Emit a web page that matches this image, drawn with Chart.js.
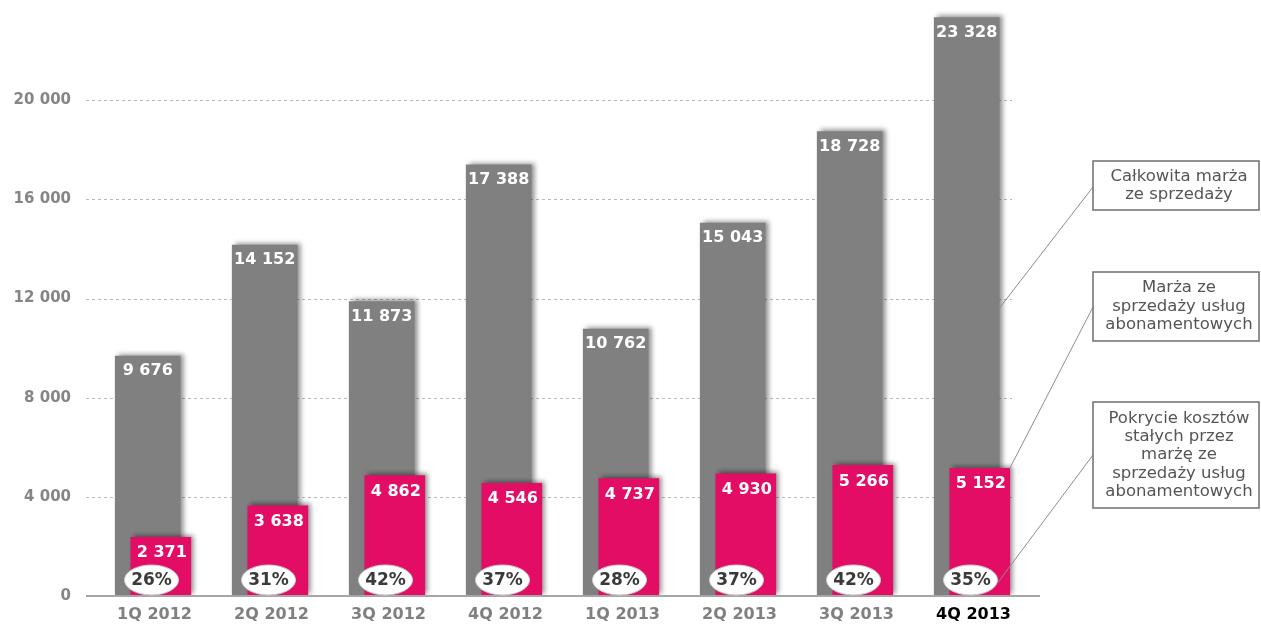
<!DOCTYPE html>
<html>
<head>
<meta charset="utf-8">
<script src="https://cdn.jsdelivr.net/npm/chart.js@4"></script>
<style>
  html,body{margin:0;padding:0;background:#fff;overflow:hidden;}
  #wrap{width:1261px;height:624px;position:relative;}
</style>
</head>
<body>
<div id="wrap"><canvas id="chart"></canvas></div>
<script>
// data
const categories=["1Q 2012","2Q 2012","3Q 2012","4Q 2012","1Q 2013","2Q 2013","3Q 2013","4Q 2013"];
const totalMargin=[9676,14152,11873,17388,10762,15043,18728,23328];
const subscriptionMargin=[2371,3638,4862,4546,4737,4930,5266,5152];
const coverage=[26,31,42,37,28,37,42,35];
const yTicks=[0,4000,8000,12000,16000,20000];
const calloutTexts=[
    ["Całkowita marża","ze sprzedaży"],
    ["Marża ze","sprzedaży usług","abonamentowych"],
    ["Pokrycie kosztów","stałych przez","marżę ze","sprzedaży usług","abonamentowych"]
];

const GREY="#808080";
const MAGENTA="#e30d66";
const FONT="'DejaVu Sans', Verdana, sans-serif";

function fmt(v){
    return String(v).replace(/\B(?=(\d{3})+(?!\d))/g," ");
}

// soft shadow on the bars
const shadowPlugin={
    id:"barShadow",
    beforeDatasetDraw(chart){
        const ctx=chart.ctx;
        ctx.save();
        ctx.shadowColor="rgba(0,0,0,0.45)";
        ctx.shadowBlur=5;
        ctx.shadowOffsetX=3;
        ctx.shadowOffsetY=-2;
    },
    afterDatasetDraw(chart){
        chart.ctx.restore();
    }
};

// dashed grid lines and the base line
const gridPlugin={
    id:"grid",
    beforeDatasetsDraw(chart){
        const ctx=chart.ctx, y=chart.scales.y, a=chart.chartArea;
        ctx.save();
        ctx.strokeStyle="#b8b8b8";
        ctx.lineWidth=1;
        ctx.setLineDash([3,3]);
        yTicks.forEach(function(t){
            if(t===0) return;
            const py=Math.round(y.getPixelForValue(t))+0.5;
            ctx.beginPath();
            ctx.moveTo(a.left-10,py);
            ctx.lineTo(a.right-20,py);
            ctx.stroke();
        });
        ctx.restore();
    },
    afterDatasetsDraw(chart){
        const ctx=chart.ctx, y=chart.scales.y, a=chart.chartArea;
        ctx.save();
        ctx.strokeStyle="#a6a6a6";
        ctx.lineWidth=2;
        const py=y.getPixelForValue(0);
        ctx.beginPath();
        ctx.moveTo(a.left-10,py);
        ctx.lineTo(a.right+8,py);
        ctx.stroke();
        ctx.restore();
    }
};

// value labels, percentage bubbles and callouts
const labelPlugin={
    id:"labels",
    afterDatasetsDraw(chart){
        const ctx=chart.ctx, x=chart.scales.x, y=chart.scales.y;
        const greyMeta=chart.getDatasetMeta(0), magMeta=chart.getDatasetMeta(1);
        ctx.save();
        ctx.font="bold 16px "+FONT;
        ctx.fillStyle="#fff";
        ctx.textAlign="center";
        ctx.textBaseline="middle";
        greyMeta.data.forEach(function(bar,i){
            ctx.fillText(fmt(totalMargin[i]),bar.x,bar.y+15);
        });
        magMeta.data.forEach(function(bar,i){
            ctx.fillText(fmt(subscriptionMargin[i]),bar.x+1,bar.y+16);
        });
        // bubbles
        const by=y.getPixelForValue(0)-16;
        coverage.forEach(function(c,i){
            const cx=x.getPixelForValue(i)-3;
            ctx.beginPath();
            ctx.ellipse(cx,by,27,15,0,0,Math.PI*2);
            ctx.fillStyle="#fff";
            ctx.fill();
            ctx.strokeStyle="#d0d0d0";
            ctx.lineWidth=1;
            ctx.stroke();
            ctx.fillStyle="#3a3a3a";
            ctx.font="bold 17px "+FONT;
            ctx.fillText(c+"%",cx,by+1);
        });
        // callout boxes
        const last=categories.length-1;
        const gBar=greyMeta.data[last], mBar=magMeta.data[last];
        const boxes=[
            {top:161,bottom:210,ly:187,tx:gBar.x+gBar.width/2,ty:y.getPixelForValue(11600)},
            {top:272,bottom:341,ly:307,tx:mBar.x+mBar.width/2,ty:mBar.y},
            {top:402,bottom:508,ly:455,tx:x.getPixelForValue(last)+24,ty:by+3}
        ];
        const bx=1093, bw=166;
        boxes.forEach(function(b,k){
            ctx.strokeStyle="#8c8c8c";
            ctx.lineWidth=1;
            ctx.beginPath();
            ctx.moveTo(bx,b.ly);
            ctx.lineTo(b.tx,b.ty);
            ctx.stroke();
            ctx.strokeStyle="#6e6e6e";
            ctx.lineWidth=1.5;
            ctx.strokeRect(bx,b.top,bw,b.bottom-b.top);
            const lines=calloutTexts[k];
            const lh=18.3;
            const mid=(b.top+b.bottom)/2;
            ctx.fillStyle="#555";
            ctx.font="16.5px "+FONT;
            lines.forEach(function(t,j){
                ctx.fillText(t,bx+bw/2+3,mid+(j-(lines.length-1)/2)*lh);
            });
        });
        ctx.restore();
    }
};

function draw(){
    const ctx=document.getElementById("chart").getContext("2d");
    return new Chart(ctx,{
        type:"bar",
        data:{
            datasets:[
                {
                    label:"Całkowita marża ze sprzedaży",
                    data:totalMargin.map(function(v,i){return {x:i-0.058,y:v};}),
                    backgroundColor:GREY,
                    barThickness:65,
                    grouped:false,
                    order:2
                },
                {
                    label:"Marża ze sprzedaży usług abonamentowych",
                    data:subscriptionMargin.map(function(v,i){return {x:i+0.054,y:v};}),
                    backgroundColor:MAGENTA,
                    barThickness:60,
                    grouped:false,
                    order:1
                }
            ]
        },
        options:{
            responsive:true,
            maintainAspectRatio:false,
            animation:false,
            layout:{padding:{top:1,right:229,left:0,bottom:0}},
            plugins:{legend:{display:false},tooltip:{enabled:false}},
            scales:{
                x:{
                    type:"linear",
                    min:-0.5,
                    max:categories.length-0.5,
                    offset:false,
                    grid:{display:false,drawTicks:false},
                    border:{display:false},
                    afterBuildTicks:function(scale){
                        scale.ticks=categories.map(function(c,i){return {value:i};});
                    },
                    afterFit:function(scale){
                        scale.height=28;
                        scale.paddingLeft=0;
                        scale.paddingRight=0;
                    },
                    ticks:{
                        autoSkip:false,
                        maxRotation:0,
                        padding:9,
                        font:{family:FONT,size:16,weight:"bold"},
                        color:function(c){return c.index===categories.length-1?"#000":"#808080";},
                        callback:function(v){return categories[v];}
                    }
                },
                y:{
                    min:0,
                    max:24000,
                    grid:{display:false,drawTicks:false},
                    border:{display:false},
                    afterBuildTicks:function(scale){
                        scale.ticks=yTicks.map(function(v){return {value:v};});
                    },
                    afterFit:function(scale){
                        scale.width=96;
                        scale.paddingTop=0;
                        scale.paddingBottom=0;
                    },
                    ticks:{
                        padding:25,
                        font:{family:FONT,size:15,weight:"bold"},
                        color:"#858585",
                        callback:function(v){return fmt(v);}
                    }
                }
            }
        },
        plugins:[gridPlugin,shadowPlugin,labelPlugin]
    });
}

Promise.all([
    document.fonts.load("bold 16px 'DejaVu Sans'"),
    document.fonts.load("16px 'DejaVu Sans'")
]).then(draw,draw);
</script>
</body>
</html>
